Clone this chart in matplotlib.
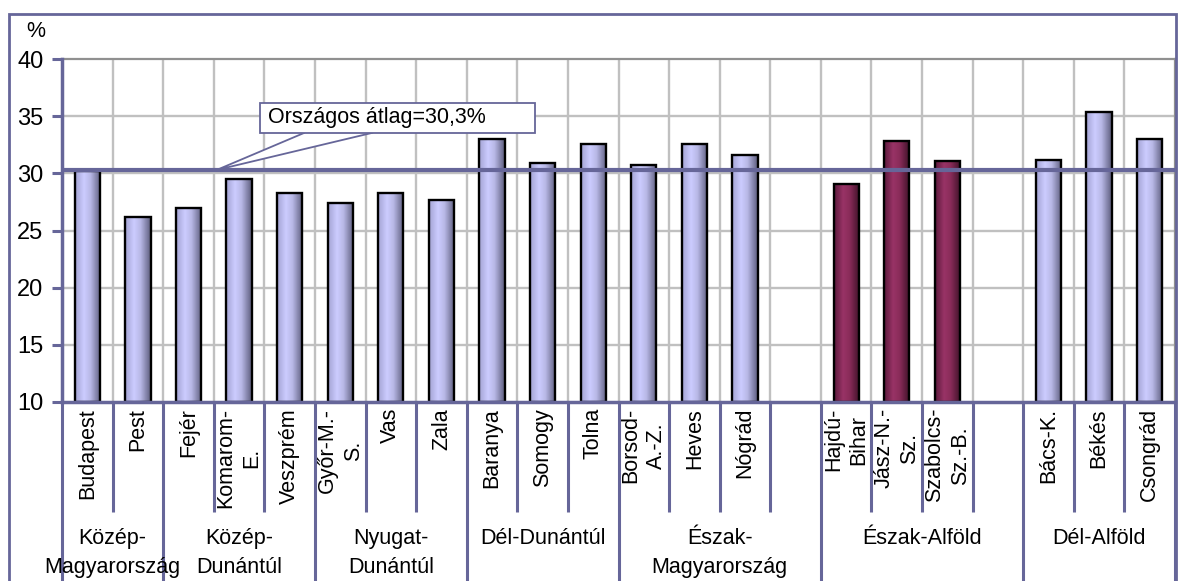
import numpy as np
import matplotlib.pyplot as plt
from matplotlib.patches import Rectangle, Polygon
from matplotlib.colors import LinearSegmentedColormap

plt.rcParams["font.family"] = ["Liberation Sans", "DejaVu Sans"]

counties = ["Budapest", "Pest", "Fejér", "Komarom-\nE.", "Veszprém", "Győr-M.-\nS.",
            "Vas", "Zala", "Baranya", "Somogy", "Tolna", "Borsod-\nA.-Z.", "Heves",
            "Nógrád", "", "Hajdú-\nBihar", "Jász-N.-\nSz.", "Szabolcs-\nSz.-B.", "",
            "Bács-K.", "Békés", "Csongrád"]
values = [30.2, 26.2, 27.0, 29.5, 28.3, 27.4, 28.3, 27.7, 33.0, 30.9, 32.6, 30.7,
          32.6, 31.6, np.nan, 29.1, 32.8, 31.1, np.nan, 31.2, 35.4, 33.0]
highlight = [False] * 15 + [True, True, True] + [False] * 4
regions = ["Közép-\nMagyarország", "Közép-\nDunántúl", "Nyugat-\nDunántúl", "Dél-Dunántúl",
           "Észak-\nMagyarország", "Észak-Alföld", "Dél-Alföld"]
region_sizes = [2, 3, 3, 3, 4, 4, 3]
avg = 30.3
yticks = [10, 15, 20, 25, 30, 35, 40]

axis_col = "#666699"
grid_col = "#c0c0c0"

lav_cmap = LinearSegmentedColormap.from_list(
    "lav", [(0, "#a4a4d4"), (0.35, "#ccccff"), (0.6, "#b8b8e6"), (1, "#5e5e7e")])
pur_cmap = LinearSegmentedColormap.from_list(
    "pur", [(0, "#5c1a3c"), (0.35, "#993366"), (0.6, "#8a2c5a"), (1, "#3e1228")])


def main():
    fig = plt.figure(figsize=(11.78, 5.81), dpi=100, facecolor="w")
    ax = fig.add_axes([62 / 1178, 1 - 402 / 581, (1175 - 62) / 1178, (402 - 59) / 581])

    n = len(counties)
    x = np.arange(n)
    ax.set_xlim(-0.5, n - 0.5)
    ax.set_ylim(10, 40)

    # grid
    for b in np.arange(0.5, n - 1, 1.0):
        ax.axvline(b, color=grid_col, lw=1.7, zorder=1)
    for t in yticks[1:-1]:
        ax.axhline(t, color=grid_col, lw=1.7, zorder=1)

    # bars with a cylinder-like gradient
    grad = np.linspace(0, 1, 64).reshape(1, -1)
    width = 0.5
    for xi, v, hl in zip(x, values, highlight):
        if np.isnan(v):
            continue
        bar = ax.bar(xi, v - 10, bottom=10, width=width, facecolor="none",
                     edgecolor="black", lw=1.7, zorder=3)[0]
        im = ax.imshow(grad, cmap=pur_cmap if hl else lav_cmap, aspect="auto",
                       extent=[xi - width / 2, xi + width / 2, 10, v], zorder=2.5)
        im.set_clip_path(bar)
    ax.set_xlim(-0.5, n - 0.5)
    ax.set_ylim(10, 40)

    # national average line
    ax.axhline(avg, color=axis_col, lw=3.0, zorder=4)

    # callout
    ax.add_patch(Polygon([[4.30, 33.56], [2.56, avg], [5.65, 33.56]], closed=False,
                         facecolor="white", edgecolor=axis_col, lw=1.3, zorder=5))
    ax.add_patch(Rectangle((3.41, 33.56), 8.85 - 3.41, 36.18 - 33.56, facecolor="white",
                           edgecolor=axis_col, lw=1.3, zorder=6))
    ax.text(3.57, 34.87, f"Országos átlag={str(avg).replace('.', ',')}%", fontsize=15.5,
            ha="left", va="center", zorder=7)

    # spines and ticks
    for s in ["top", "right"]:
        ax.spines[s].set_color("#909090")
        ax.spines[s].set_linewidth(1.6)
    for s in ["left", "bottom"]:
        ax.spines[s].set_color(axis_col)
        ax.spines[s].set_linewidth(2.5)
        ax.spines[s].set_zorder(5)
    ax.set_yticks(yticks)
    ax.set_yticklabels([str(t) for t in yticks], fontsize=17)
    ax.tick_params(axis="y", length=7.5, width=2.2, color=axis_col, pad=6)
    ax.set_xticks([])
    ax.text(-0.024, 1.08, "%", transform=ax.transAxes, fontsize=15.5, ha="center", va="center")

    # category labels and separators
    tr = ax.get_xaxis_transform()
    ax_h = 343.0
    for xi, name in zip(x, counties):
        ax.text(xi, -6 / ax_h, name, transform=tr, rotation=90, fontsize=15.5,
                ha="center", va="top", multialignment="center", linespacing=1.3)
    bounds = np.cumsum([0] + region_sizes)
    for b in range(n + 1):
        bottom = -179 / ax_h if b in bounds else -110 / ax_h
        ax.plot([b - 0.5, b - 0.5], [0, bottom], transform=tr, color=axis_col,
                lw=2.2, clip_on=False, solid_capstyle="butt")
    for i, name in enumerate(regions):
        mid = (bounds[i] + bounds[i + 1]) / 2 - 0.5
        ax.text(mid, -126 / ax_h, name, transform=tr, fontsize=15.5, ha="center",
                va="top", multialignment="center", linespacing=1.5)

    # outer chart border
    fig.patches.append(Rectangle((9 / 1178, -0.05), (1176 - 9) / 1178, 1.05 - 14 / 581,
                                 transform=fig.transFigure, fill=False,
                                 edgecolor=axis_col, lw=2))

    fig.savefig("out.png", dpi=100)
    plt.close(fig)


if __name__ == "__main__":
    main()
